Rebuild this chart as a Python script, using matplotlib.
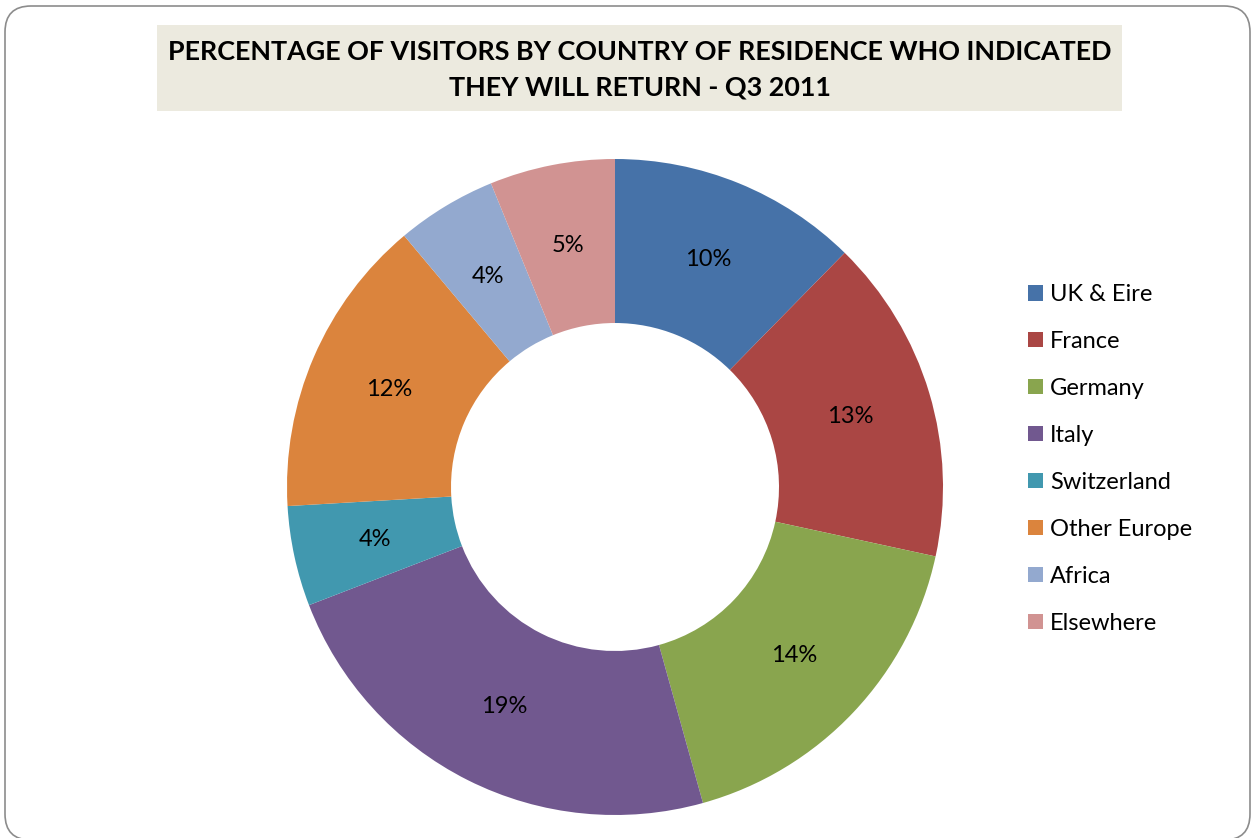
import matplotlib.pyplot as plt
from matplotlib.patches import FancyBboxPatch, Rectangle, Patch
import numpy as np

plt.rcParams['font.family'] = ['Lato', 'DejaVu Sans']

countries = ['UK & Eire', 'France', 'Germany', 'Italy', 'Switzerland',
             'Other Europe', 'Africa', 'Elsewhere']
percent = [10, 13, 14, 19, 4, 12, 4, 5]
colors = ['#4672A8', '#AA4644', '#89A54E', '#71588F', '#4198AF',
          '#DB843D', '#93A9CF', '#D19392']
title = 'PERCENTAGE OF VISITORS BY COUNTRY OF RESIDENCE WHO INDICATED\nTHEY WILL RETURN - Q3 2011'

W, H = 1252, 838
fig = plt.figure(figsize=(W / 100, H / 100), dpi=100)
ax = fig.add_axes([0, 0, 1, 1])

# slide frame
ax.add_patch(FancyBboxPatch((5, -2), 1245, 834, boxstyle='round,pad=0,rounding_size=26',
                            facecolor='white', edgecolor='#8c8c8c', linewidth=1.2, zorder=0))
# title box
ax.add_patch(Rectangle((157, H - 111), 965, 86, facecolor='#ECEADF', edgecolor='none', zorder=1))
ax.text(640, H - 70, title, ha='center', va='center', fontsize=19.4, fontweight='bold',
        linespacing=1.6, color='black', zorder=2)

cx, cy, R = 615, H - 487, 328
wedges, _ = ax.pie(percent, colors=colors, startangle=90, counterclock=False,
                   radius=R, center=(cx, cy), wedgeprops=dict(width=R * 0.5, linewidth=0))
for w, v in zip(wedges, percent):
    ang = np.deg2rad((w.theta1 + w.theta2) / 2)
    ax.text(cx + 0.75 * R * np.cos(ang), cy + 0.75 * R * np.sin(ang), f'{v}%',
            ha='center', va='center', fontsize=17, color='black')

ax.set_xlim(0, W)
ax.set_ylim(0, H)
ax.set_aspect('equal')
ax.axis('off')

handles = [Patch(facecolor=c, edgecolor='none') for c in colors]
fig.legend(handles, countries, loc='upper left', bbox_to_anchor=(1028 / W, 1 - 284 / H),
           frameon=False, fontsize=17, handlelength=0.64, handleheight=0.64,
           handletextpad=0.3, labelspacing=1.1, borderpad=0, borderaxespad=0)

fig.savefig('out.png', dpi=100)
